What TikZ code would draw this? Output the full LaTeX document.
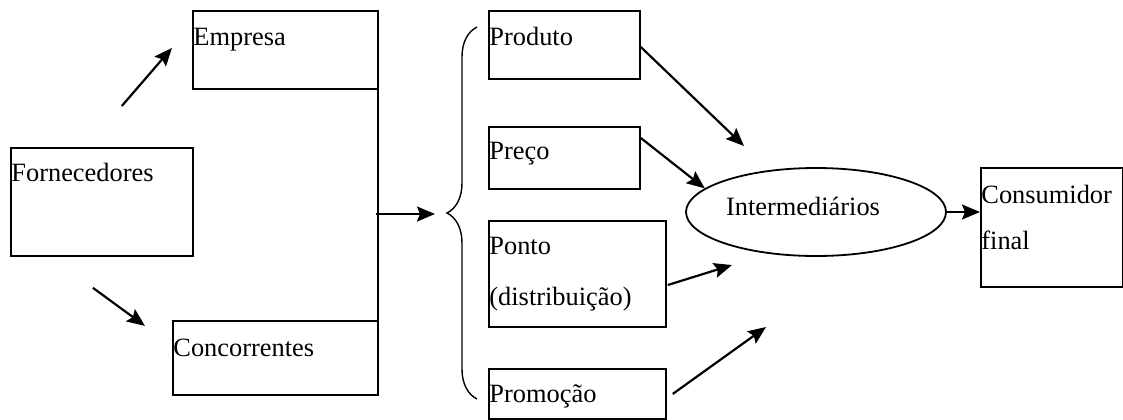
\documentclass[tikz,border=0pt]{standalone}
\usepackage{fontspec}
\setmainfont{Liberation Serif}
\usetikzlibrary{arrows.meta, positioning, shapes.geometric, decorations.pathreplacing, calc}

\begin{document}
\begin{tikzpicture}[
  x=0.5pt, y=-0.5pt,
  every node/.style={font=\fontsize{13.2}{16}\selectfont},
  mybox/.style 2 args={rectangle, draw, line width=0.9pt, anchor=north west,
              inner sep=0pt, minimum width=#1, minimum height=#2},
  txt/.style={anchor=base west, inner sep=0pt},
  arr/.style={-{Stealth[length=9pt, width=7.5pt, inset=1.5pt]}, line width=1.1pt},
]
  \useasboundingbox (0,0) rectangle (1123,419);

  % left part
  \node[mybox={91pt}{54pt}]     (forn) at (10,147)  {};
  \node[mybox={92.5pt}{39pt}]   (emp)  at (192,10)  {};
  \node[mybox={102.5pt}{37pt}]  (conc) at (172,320) {};
  \node[txt] (fornT) at ($(forn.north west)+(1,34)$) {Fornecedores};
  \node[txt] (empT)  at ($(emp.north west)+(1,35)$)  {Empresa};
  \node[txt] (concT) at ($(conc.north west)+(1,36)$) {Concorrentes};

  % marketing mix
  \node[mybox={75.5pt}{34pt}]   (prod)  at (488,10)  {};
  \node[mybox={75.5pt}{31pt}]   (preco) at (488,126) {};
  \node[mybox={88.5pt}{53pt}]   (ponto) at (488,220) {};
  \node[mybox={88.5pt}{25pt}]   (promo) at (488,368) {};
  \node[txt] (prodT)   at ($(prod.north west)+(1,35)$)  {Produto};
  \node[txt] (precoT)  at ($(preco.north west)+(1,33)$) {Preço};
  \node[txt] (pontoT)  at ($(ponto.north west)+(1,34)$) {Ponto};
  \node[txt] (pontoT2) at ($(ponto.north west)+(1,85)$) {(distribuição)};
  \node[txt] (promoT)  at ($(promo.north west)+(1,34)$) {Promoção};

  % right part
  \node[ellipse, draw, line width=0.9pt, inner sep=0pt, minimum width=130pt,
        minimum height=44pt, text depth=5.3pt] (int) at (816,212)
        {Intermediários\hspace*{13pt}};
  \node[mybox={71pt}{59.5pt}]   (cons) at (980,167) {};
  \node[txt] (consT)  at ($(cons.north west)+(1,36)$) {Consumidor};
  \node[txt] (consT2) at ($(cons.north west)+(1,82)$) {final};

  % free ends
  \coordinate (a1) at ($(forn.north east)+(-72,-41)$);
  \coordinate (a2) at ($(emp.west)+(-20,-2)$);
  \coordinate (b1) at ($(forn.south)+(-9,31)$);
  \coordinate (b2) at ($(conc.west)+(-27,-32)$);
  \coordinate (jTop) at ($(emp.north east)+(-1,27)$);
  \coordinate (jBot) at ($(conc.north east)+(-1,48)$);
  \coordinate (jMid) at (376,214);
  \coordinate (jEnd) at (435,214);
  \coordinate (brB) at (477,399);
  \coordinate (brT) at (477,27);
  \coordinate (c1) at (744,146);
  \coordinate (c3) at (732,265);
  \coordinate (c4s) at ($(promo.east)+(6,0)$);
  \coordinate (c4) at (766,327);

  \draw[arr] (a1) -- (a2);
  \draw[arr] (b1) -- (b2);
  \draw[line width=1.1pt] (jTop) -- (jBot);
  \draw[arr] (jMid) -- (jEnd);
  \draw[decorate, decoration={brace, amplitude=15pt}, line width=0.7pt] (brB) -- (brT);

  \draw[arr] ($(prod.north east)+(0,37)$) -- (c1);
  \draw[arr] ($(preco.north east)+(0,12)$) -- (int.168);
  \draw[arr] ($(ponto.north east)+(1,65)$) -- (c3);
  \draw[arr] (c4s) -- (c4);
  \draw[arr] (int.east) -- (int.east -| cons.west);
\end{tikzpicture}
\end{document}
